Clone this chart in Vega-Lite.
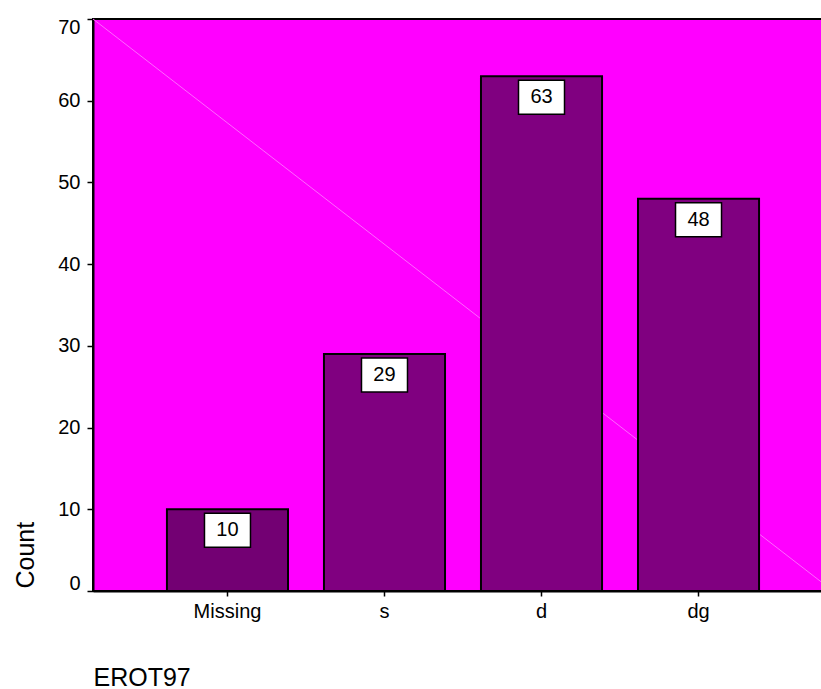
{
  "$schema": "https://vega.github.io/schema/vega-lite/v6.json",
  "autosize": {"type": "none"},
  "padding": {"left": 93, "top": 19, "right": 0, "bottom": 98},
  "width": 740,
  "height": 572,
  "background": "white",
  "config": {
    "font": "Liberation Sans",
    "view": {"stroke": "black", "strokeWidth": 2, "fill": "#FF00FF"},
    "axis": {"grid": false, "domainColor": "black", "tickColor": "black", "labelColor": "black", "titleColor": "black", "titleFontWeight": "normal"}
  },
  "layer": [
    {
      "data": {"values": [{"px": 0, "count": 70, "px2": 1, "count2": 0}]},
      "mark": {"type": "rule", "color": "#FF66FF", "strokeWidth": 1},
      "encoding": {
        "x": {"field": "px", "type": "quantitative", "scale": {"domain": [0, 1], "nice": false, "zero": false}, "axis": null},
        "x2": {"field": "px2"},
        "y": {"field": "count", "type": "quantitative", "scale": {"domain": [0, 70], "nice": false},
              "axis": {"title": "Count", "values": [0, 10, 20, 30, 40, 50, 60, 70], "labelFontSize": 20, "labelFlush": true, "labelFlushOffset": 2, "tickSize": 6, "labelPadding": 7, "domainWidth": 2, "tickWidth": 1.5, "titleFontSize": 25, "titleAngle": 270, "titleX": -60, "titleY": 569, "titleAlign": "left", "titleBaseline": "alphabetic"}},
        "y2": {"field": "count2"}
      }
    },
    {
      "data": {"values": [
        {"EROT97": "Missing", "count": 10},
        {"EROT97": "s", "count": 29},
        {"EROT97": "d", "count": 63},
        {"EROT97": "dg", "count": 48}
      ]},
      "encoding": {
        "x": {"field": "EROT97", "type": "nominal", "sort": null,
              "scale": {"paddingInner": 0.229, "paddingOuter": 0.471},
              "axis": {"title": "EROT97", "labelAngle": 0, "labelFontSize": 20, "tickSize": 5, "labelPadding": 5, "domainWidth": 2, "tickWidth": 1.5, "titleFontSize": 25, "titleX": 0, "titleY": 94, "titleAlign": "left", "titleBaseline": "alphabetic", "titleAnchor": "start"}},
        "y": {"field": "count", "type": "quantitative", "scale": {"domain": [0, 70], "nice": false},
              "axis": {"title": "Count", "values": [0, 10, 20, 30, 40, 50, 60, 70], "labelFontSize": 20, "labelFlush": true, "labelFlushOffset": 2, "tickSize": 6, "labelPadding": 7, "domainWidth": 2, "tickWidth": 1.5, "titleFontSize": 25, "titleAngle": 270, "titleX": -60, "titleY": 569, "titleAlign": "left", "titleBaseline": "alphabetic"}}
      },
      "layer": [
        {
          "mark": {"type": "bar", "stroke": "black", "strokeWidth": 2},
          "encoding": {
            "color": {"field": "EROT97", "type": "nominal", "legend": null,
                      "scale": {"domain": ["Missing", "s", "d", "dg"], "range": ["#730073", "#800080", "#800080", "#800080"]}}
          }
        },
        {
          "mark": {"type": "point", "filled": true, "fill": "white", "stroke": "black", "strokeWidth": 1.5, "opacity": 1, "fillOpacity": 1,
                   "shape": "M-1.353,-1L1.353,-1L1.353,1L-1.353,1Z", "size": 1156, "yOffset": 21}
        },
        {
          "mark": {"type": "text", "fontSize": 20, "color": "black", "baseline": "middle", "align": "center", "yOffset": 21},
          "encoding": {"text": {"field": "count", "type": "quantitative"}}
        }
      ]
    }
  ],
  "resolve": {"scale": {"x": "independent"}, "axis": {"x": "independent"}}
}
